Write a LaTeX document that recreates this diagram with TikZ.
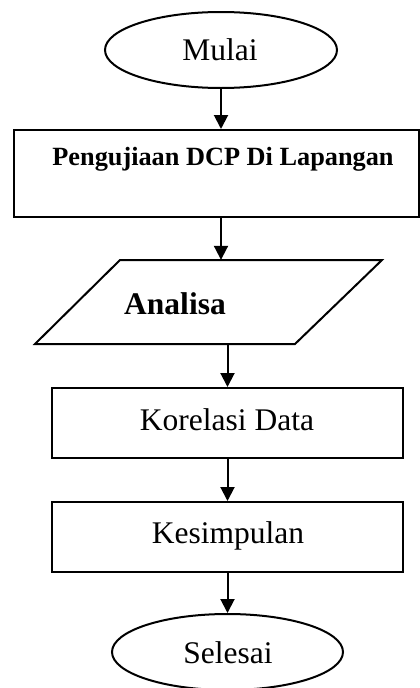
\documentclass[tikz,border=0pt]{standalone}
\usepackage{fontspec}
\setmainfont{Liberation Serif}
\usetikzlibrary{shapes.geometric,arrows.meta}
\begin{document}
\begin{tikzpicture}[x=1pt,y=-1pt,
  shapeline/.style={draw=black,line width=2pt},
  conn/.style={line width=2pt,-{Triangle[width=14pt,length=14pt]}},
  txt/.style={font=\fontsize{31.5}{36}\selectfont,anchor=base,inner sep=0pt},
  btxt/.style={font=\fontsize{31.5}{36}\selectfont\bfseries,anchor=base,inner sep=0pt}]
\useasboundingbox (0,0) rectangle (420,688);
% shapes
\node[shapeline, ellipse, minimum width=232pt, minimum height=76pt, inner sep=0pt] (mulai) at (221,50) {};
\node[shapeline, rectangle, minimum width=405pt, minimum height=87pt, inner sep=0pt] (uji) at (216.5,173.5) {};
\draw[shapeline, line join=miter] (120,260) -- (382,260) -- (295,344) -- (35,344) -- cycle;
\node[draw=none, rectangle, minimum width=200pt, minimum height=84pt, inner sep=0pt] (analisa) at (208.5,302) {};
\node[shapeline, rectangle, minimum width=351pt, minimum height=70pt, inner sep=0pt] (korelasi) at (227.5,423) {};
\node[shapeline, rectangle, minimum width=351pt, minimum height=70pt, inner sep=0pt] (kesimpulan) at (227.5,537) {};
\node[shapeline, ellipse, minimum width=231pt, minimum height=76pt, inner sep=0pt] (selesai) at (227.5,652) {};
% texts
\node[txt] (tmulai) at (220,60) {Mulai};
\node[btxt, font=\fontsize{26.3}{30}\selectfont\bfseries] (tuji) at (223,165) {Pengujiaan DCP Di Lapangan};
\node[btxt] (tanalisa) at (175,314) {Analisa};
\node[txt] (tkorelasi) at (227,430) {Korelasi Data};
\node[txt] (tkesimpulan) at (228,543) {Kesimpulan};
\node[txt] (tselesai) at (228,663) {Selesai};
% connectors
\draw[conn] (mulai.south) -- (mulai.south |- uji.north);
\draw[conn] (mulai.south |- uji.south) -- (mulai.south |- analisa.north);
\draw[conn] (korelasi.north |- analisa.south) -- (korelasi.north);
\draw[conn] (korelasi.south) -- (kesimpulan.north);
\draw[conn] (kesimpulan.south) -- (selesai.north);
\end{tikzpicture}
\end{document}
